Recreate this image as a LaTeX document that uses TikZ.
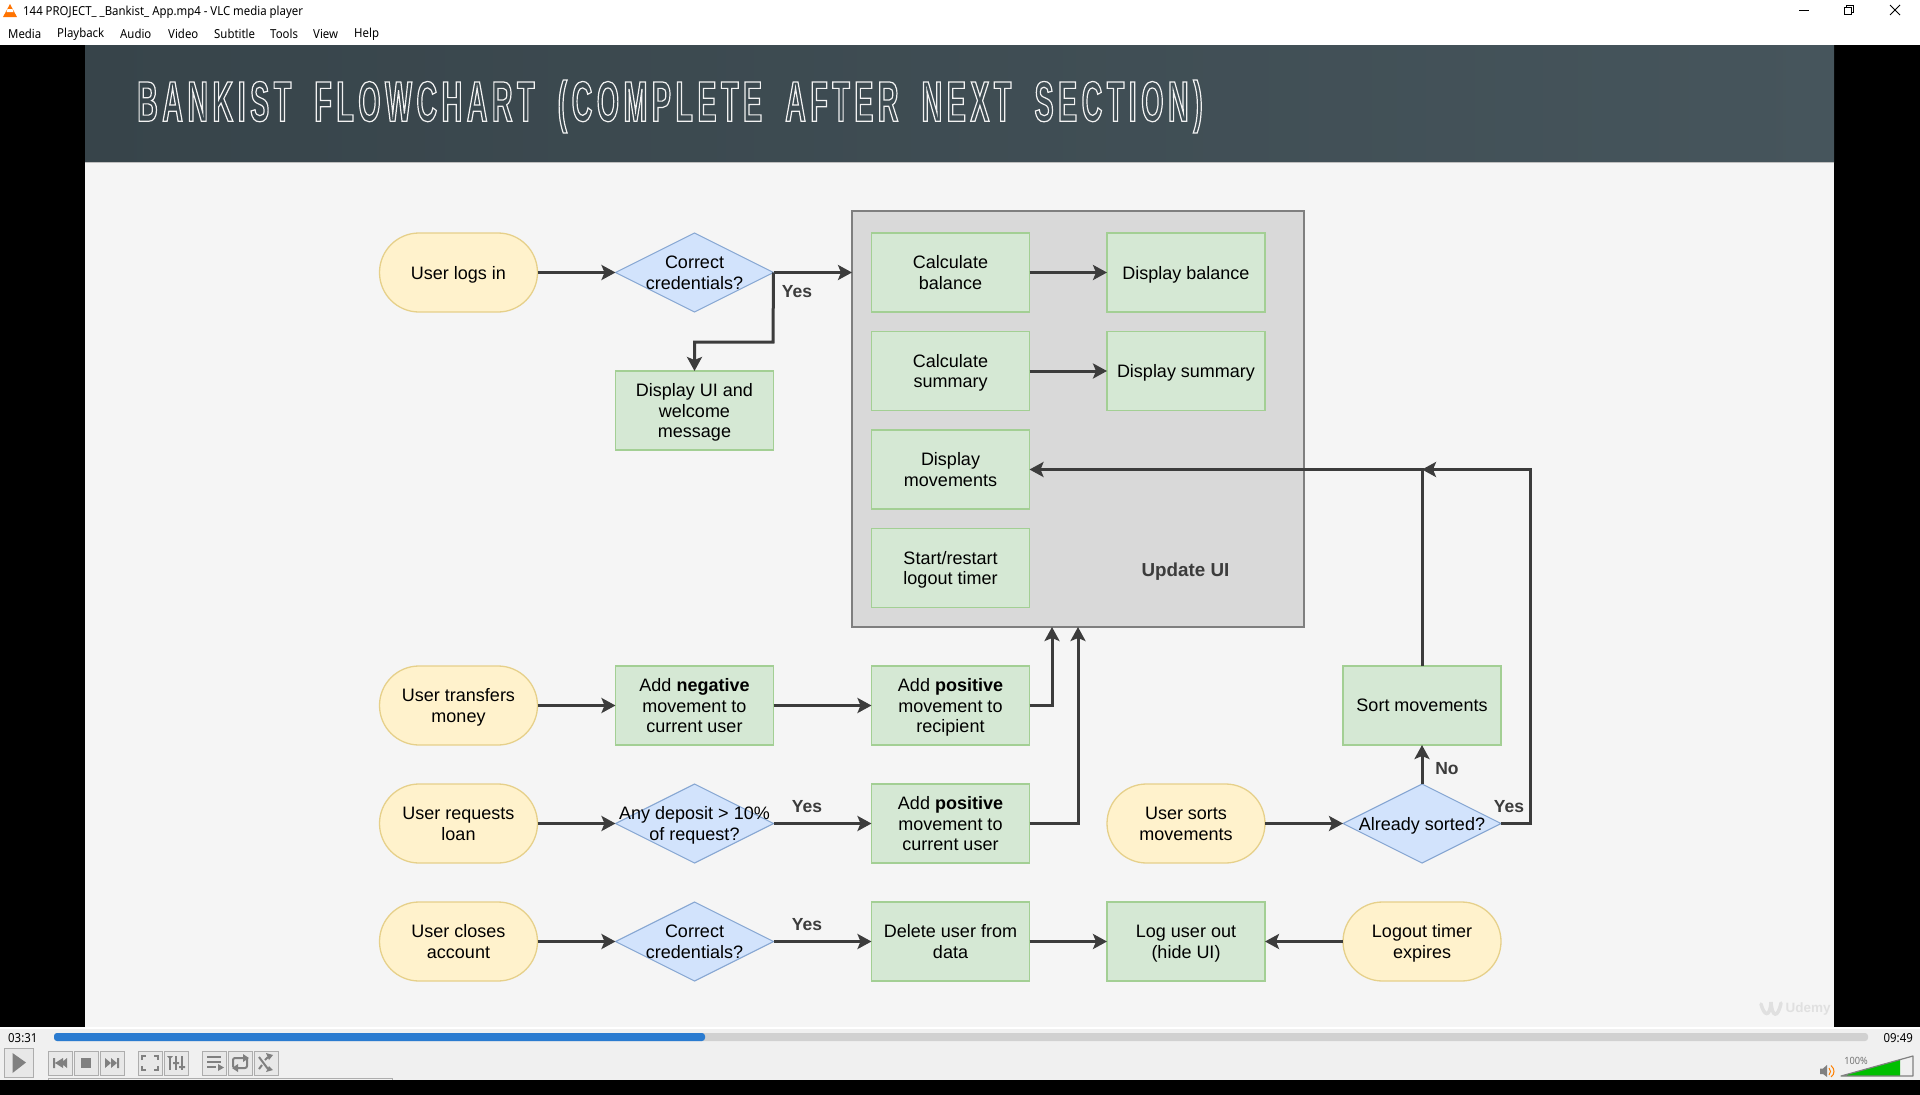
\documentclass[tikz,border=0pt]{standalone}
\usepackage{fontspec}
\usetikzlibrary{arrows.meta,shapes.geometric,shapes.misc}
\setmainfont{Liberation Sans}
\newfontfamily\chromefont[FakeStretch=.92]{Noto Sans}
\newfontfamily\titlefont[FakeStretch=.5,LetterSpace=8,WordSpace=1.86]{Liberation Sans Bold}
\definecolor{pillfill}{HTML}{FFF2CC}
\definecolor{pillline}{HTML}{E6D08A}
\definecolor{boxfill}{HTML}{D5E8D4}
\definecolor{boxline}{HTML}{A3CF94}
\definecolor{askfill}{HTML}{D2E3FC}
\definecolor{askline}{HTML}{86A6D2}
\definecolor{flowline}{HTML}{3C3C3C}
\definecolor{slidebg}{HTML}{F5F5F5}
\definecolor{barbg}{HTML}{F0F0F0}
\definecolor{iconline}{HTML}{808080}
\definecolor{bannerleft}{HTML}{37444A}
\definecolor{bannerright}{HTML}{46555C}
\definecolor{uifill}{HTML}{D9D9D9}
\definecolor{uiline}{HTML}{7F7F7F}
\definecolor{seekblue}{HTML}{2A7BD0}
\tikzset{
  body/.style={font=\fontsize{18}{20.8}\selectfont,align=center,text=black,text depth=0pt},
  pillbox/.style={rounded rectangle,draw=pillline,fill=pillfill,line width=1.3pt,minimum width=158pt,minimum height=79pt,inner sep=0pt,outer sep=0pt,body},
  stepbox/.style={rectangle,draw=boxline,fill=boxfill,line width=1.3pt,minimum width=158pt,minimum height=79pt,inner sep=0pt,outer sep=0pt,body},
  askbox/.style={diamond,draw=askline,fill=askfill,line width=1.1pt,minimum width=158pt,minimum height=79pt,inner sep=0pt,outer sep=0pt},
  flow/.style={draw=flowline,line width=3pt,-{Stealth[length=14pt,width=15pt,inset=3pt]}},
  flowtag/.style={font=\fontsize{17.5}{20}\selectfont\bfseries,text=flowline,inner sep=0pt},
  chrome/.style={font=\chromefont\fontsize{12.4}{14}\selectfont,anchor=west,inner sep=0pt,text=black},
  iconbtn/.style={draw=black!32,fill=black!9,line width=1pt},
  icon/.style={fill=iconline,draw=none}
}
\begin{document}
\begin{tikzpicture}[x=1pt,y=-1pt]
  \useasboundingbox (0,0) rectangle (1920,1095);
  % window and slide
  \fill[white] (0,0) rectangle (1920,45);
  \fill[black] (0,45) rectangle (1920,1095);
  \fill[slidebg] (85,162) rectangle (1834,1027);
  \shade[left color=bannerleft,right color=bannerright] (85,45) rectangle (1834,162);
  \fill[black!25] (85,162) rectangle (1834,163);
  \node[anchor=west,inner sep=0pt,text=black!5,font=\titlefont\fontsize{57}{57}\selectfont] (headline) at (137,106.5)
    {\special{pdf:code 1 Tr 1.2 w}BANKIST FLOWCHART (COMPLETE AFTER NEXT SECTION)\special{pdf:code 0 Tr}};
  % title bar
  \fill[orange!90!red] (3,17) -- (10,4) -- (17,17) -- cycle;
  \fill[white] (7.5,9) -- (12.5,9) -- (13.5,12) -- (6.5,12) -- cycle;
  \node[chrome] (titlebar) at (23,12) {144 PROJECT\_ \_Bankist\_ App.mp4 - VLC media player};
  \foreach \nm/\x/\lab in {mmedia/8/Media,mplay/57/Playback,maudio/120/Audio,mvideo/168/Video,msub/214/Subtitle,mtools/270/Tools,mview/313/View,mhelp/354/Help}
    \node[chrome] (\nm) at (\x,34) {\lab};
  \draw[line width=1pt] (1799,10) -- (1809,10);
  \draw[line width=1pt] (1844.5,7.5) rectangle (1851.5,14.5);
  \draw[line width=1pt] (1846.5,7.5) -- (1846.5,5.5) -- (1853.5,5.5) -- (1853.5,12.5) -- (1851.5,12.5);
  \draw[line width=1pt] (1890,5) -- (1900,15) (1900,5) -- (1890,15);
  % update ui panel
  \node[rectangle,draw=uiline,fill=uifill,line width=1.5pt,minimum width=452pt,minimum height=416pt,inner sep=0pt,outer sep=0pt] (ui) at (1078,419) {};
  \node[font=\fontsize{18.8}{22}\selectfont\bfseries,text=flowline,inner sep=0pt] (uitag) at (1185.5,571.5) {Update UI};
  % terminals
  \foreach \nm/\x/\y/\lab in {
    login/458.5/272.5/{User logs in},
    transfer/458.5/705.5/{User transfers\\money},
    requestloan/458.5/823.5/{User requests\\loan},
    closeacc/458.5/941.5/{User closes\\account},
    usersorts/1186/823.5/{User sorts\\movements},
    timerout/1422/941.5/{Logout timer\\expires}}
    \node[pillbox] (\nm) at (\x,\y) {\lab};
  % steps
  \foreach \nm/\x/\y/\lab in {
    welcome/694.5/410.5/{Display UI and\\welcome\\message},
    calcbal/950.5/272.5/{Calculate\\balance},
    showbal/1186/272.5/{Display balance},
    calcsum/950.5/371/{Calculate\\summary},
    showsum/1186/371/{Display summary},
    movements/950.5/469.5/{Display\\movements},
    timer/950.5/568/{Start/restart\\logout timer},
    negmove/694.5/705.5/{Add \textbf{negative}\\movement to\\current user},
    posmove/950.5/705.5/{Add \textbf{positive}\\movement to\\recipient},
    loanmove/950.5/823.5/{Add \textbf{positive}\\movement to\\current user},
    deleteuser/950.5/941.5/{Delete user from\\data},
    logoff/1186/941.5/{Log user out\\(hide UI)},
    sortmov/1422/705.5/{Sort movements}}
    \node[stepbox] (\nm) at (\x,\y) {\lab};
  % decisions
  \foreach \nm/\x/\y/\lab in {
    cred/694.5/272.5/{Correct\\credentials?},
    deposit/694.5/823.5/{Any deposit > 10\%\\of request?},
    closecred/694.5/941.5/{Correct\\credentials?},
    sorted/1422/823.5/{Already sorted?}}
    \node[askbox,label={[body,inner sep=0pt]center:\lab}] (\nm) at (\x,\y) {};
  % connectors
  \coordinate (credbend) at (773,342);
  \coordinate (loanup) at (1078,823.5);
  \coordinate (recipup) at (1052,705.5);
  \coordinate (sortright) at (1530,469.5);
  \foreach \a/\b in {login/cred,transfer/negmove,negmove/posmove,requestloan/deposit,deposit/loanmove,usersorts/sorted,closeacc/closecred,closecred/deleteuser,deleteuser/logoff,calcbal/showbal,calcsum/showsum}
    \draw[flow] (\a.east) -- (\b.west);
  \draw[flow] (timerout.west) -- (logoff.east);
  \draw[flow] (sorted.north) -- (sortmov.south);
  \draw[flow] (cred.east) -- (ui.west |- cred.east);
  \draw[flow] (cred.east) -- (credbend) -| (welcome.north);
  \draw[flow] (posmove.east) -- (recipup) -- (recipup |- ui.south);
  \draw[flow] (loanmove.east) -- (loanup) -- (loanup |- ui.south);
  \draw[flow] (sortmov.north) -- (sortmov.north |- movements.east) -- (movements.east);
  \draw[flow] (sorted.east) -| (sortright) -- (sortmov.north |- sortright);
  % flow labels
  \node[flowtag] (yesa) at (797,291.5) {Yes};
  \node[flowtag] (yesb) at (807,807) {Yes};
  \node[flowtag] (yesc) at (807,925) {Yes};
  \node[flowtag] (yesd) at (1509,807) {Yes};
  \node[flowtag] (nosort) at (1447,769) {No};
  \node[font=\bfseries\fontsize{13.5}{14}\selectfont,text=black!12,inner sep=0pt] (udemy) at (1808,1009) {Udemy};
  \draw[black!12,line width=3.5pt,line cap=round] (1761,1004) .. controls (1764,1016) and (1770,1018) .. (1771,1002) .. controls (1772,1018) and (1778,1018) .. (1781,1003);
  % player bar
  \fill[barbg] (0,1027) rectangle (1920,1080);
  \fill[white] (0,1027) rectangle (1920,1029);
  \fill[black!18,rounded corners=3pt] (54,1033) rectangle (1868,1041);
  \fill[seekblue,rounded corners=3pt] (54,1033) rectangle (705,1041);
  \node[chrome] (elapsed) at (8,1038) {03:31};
  \node[chrome,anchor=east] (total) at (1913,1038) {09:49};
  \draw[iconbtn] (4.5,1048.5) rectangle (33.5,1077);
  \fill[icon] (12.5,1053) -- (26,1062.5) -- (12.5,1073) -- cycle;
  \foreach \x in {48,74,100,138,164,202,228,254}
    \draw[iconbtn] (\x,1051) rectangle ++(24,24);
  \draw[black!32,line width=1pt] (48,1079.5) -- (48,1078.5) -- (392,1078.5) -- (392,1079.5);
  % button glyphs
  \fill[icon] (53,1058) rectangle (55,1068) (63,1058) -- (63,1068) -- (55,1063) -- cycle (67,1058) -- (67,1068) -- (61,1063) -- cycle;
  \fill[icon] (81,1058) rectangle (91,1068);
  \fill[icon] (105,1058) -- (105,1068) -- (111,1063) -- cycle (111,1058) -- (111,1068) -- (117,1063) -- cycle (117,1058) rectangle (119,1068);
  \draw[iconline,line width=2pt] (142,1060) -- (142,1056) -- (146,1056) (154,1056) -- (158,1056) -- (158,1060) (158,1066) -- (158,1070) -- (154,1070) (146,1070) -- (142,1070) -- (142,1066);
  \draw[iconline,line width=2pt] (170,1056) -- (170,1070) (176,1056) -- (176,1070) (182,1056) -- (182,1070);
  \fill[icon] (167,1056) -- (173,1056) -- (170,1059) -- cycle (173,1062) rectangle (179,1064) (179,1066) rectangle (185,1068);
  \draw[iconline,line width=2pt] (207,1057) -- (221,1057) (207,1062) -- (221,1062) (207,1067) -- (216,1067);
  \fill[icon] (218,1064) -- (224,1067.5) -- (218,1071) -- cycle;
  \draw[iconline,line width=2pt,rounded corners=2pt] (233,1067) -- (233,1058) -- (244,1058) (247,1059) -- (247,1068) -- (237,1068);
  \fill[icon] (243,1054) -- (249,1058) -- (243,1062) -- cycle (238,1064) -- (232,1068) -- (238,1072) -- cycle;
  \draw[iconline,line width=2pt] (259,1057) -- (268,1069) (259,1069) -- (262,1065) (265,1060) -- (268,1057);
  \fill[icon] (266,1053) -- (273,1055) -- (269,1060) -- cycle (266,1072) -- (273,1070) -- (269,1066) -- cycle;
  % volume
  \fill[icon] (1820,1068.5) rectangle (1823,1074) (1823,1068.5) -- (1827,1065) -- (1827,1077) -- (1823,1074) -- cycle;
  \draw[orange,line width=1pt] (1829,1068) .. controls (1831,1070) and (1831,1073) .. (1829,1075) (1831,1065.5) .. controls (1835,1069) and (1835,1074) .. (1831,1077);
  \fill[green!75!black] (1841,1076) -- (1900,1059.5) -- (1900,1076) -- cycle;
  \draw[iconline,line width=1.2pt,line join=round] (1841,1076) -- (1913,1056) -- (1913,1076) -- cycle;
  \node[font=\chromefont\fontsize{10}{10}\selectfont,text=black!55,inner sep=0pt] (volume) at (1856,1060.5) {100\%};
\end{tikzpicture}
\end{document}
